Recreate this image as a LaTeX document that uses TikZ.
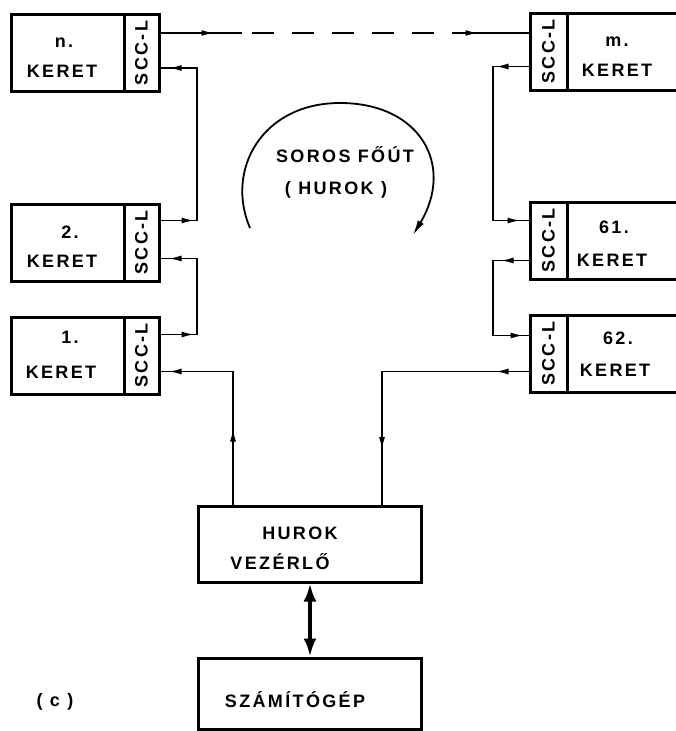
\documentclass[tikz,border=0pt]{standalone}
\usepackage{fontspec}
\setmainfont[LetterSpace=13]{Liberation Sans}
\usetikzlibrary{arrows.meta,decorations.markings,calc}
\tikzset{
  mytip/.tip={Latex[length=13pt,width=6pt]},
  box/.style={draw,line width=3pt,rectangle,inner sep=0pt},
  lbl/.style={font=\fontsize{18}{21}\selectfont\bfseries,inner sep=0pt},
  con/.style={line width=1.8pt},
  twoarr/.style 2 args={postaction={decorate},decoration={markings,
      mark=at position #1 with {\arrow{mytip}},
      mark=at position #2 with {\arrow{mytip}}}},
  onearr/.style={postaction={decorate},decoration={markings,
      mark=at position #1 with {\arrow{mytip}}}},
}
\begin{document}
\begin{tikzpicture}[x=1pt,y=-1pt]
\useasboundingbox (0,0) rectangle (675,731);
% guide x positions
\coordinate (gL) at (197,0);
\coordinate (gR) at (493,0);
\coordinate (gVL) at (233,0);
\coordinate (gVR) at (382,0);
\coordinate (gM) at (310,0);
% left boxes
\node[box,minimum width=113pt,minimum height=77pt] (nb) at (67.5,53) {};
\node[box,minimum width=35pt,minimum height=77pt,lbl] (ns) at (141.5,53) {\rotatebox{90}{SCC-L}};
\node[box,minimum width=113pt,minimum height=77pt] (b2) at (67.5,242.5) {};
\node[box,minimum width=35pt,minimum height=77pt,lbl] (s2) at (141.5,242.5) {\rotatebox{90}{SCC-L}};
\node[box,minimum width=113pt,minimum height=77pt] (b1) at (67.5,355.5) {};
\node[box,minimum width=35pt,minimum height=77pt,lbl] (s1) at (141.5,355.5) {\rotatebox{90}{SCC-L}};
% right boxes
\node[box,minimum width=133pt,minimum height=77pt] (mb) at (633.5,51.5) {};
\node[box,minimum width=37pt,minimum height=77pt,lbl] (ms) at (548.5,51.5) {\rotatebox{90}{SCC-L}};
\node[box,minimum width=133pt,minimum height=77pt] (b61) at (633.5,240.5) {};
\node[box,minimum width=37pt,minimum height=77pt,lbl] (s61) at (548.5,240.5) {\rotatebox{90}{SCC-L}};
\node[box,minimum width=133pt,minimum height=77pt] (b62) at (633.5,353.5) {};
\node[box,minimum width=37pt,minimum height=77pt,lbl] (s62) at (548.5,353.5) {\rotatebox{90}{SCC-L}};
% box labels
\node[lbl] (tn1) at (64,43) {n.};
\node[lbl] (tn2) at (62,71) {KERET};
\node[lbl] (t21) at (70,232) {2.};
\node[lbl] (t22) at (62,261) {KERET};
\node[lbl] (t11) at (70,337) {1.};
\node[lbl] (t12) at (61,372) {KERET};
\node[lbl] (tm1) at (617,42) {m.};
\node[lbl] (tm2) at (617,70) {KERET};
\node[lbl] (t611) at (614,227) {61.};
\node[lbl] (t612) at (612,260) {KERET};
\node[lbl] (t621) at (618,338) {62.};
\node[lbl] (t622) at (615,370) {KERET};
% controller and computer
\node[box,minimum width=223pt,minimum height=76pt] (vz) at (309.5,544) {};
\node[lbl] (vz1) at (300,533) {HUROK};
\node[lbl] (vz2) at (280,562) {VEZÉRLŐ};
\node[box,minimum width=223pt,minimum height=71pt] (sz) at (309.5,693.5) {};
\node[lbl] (sz1) at (295,700) {SZÁMÍTÓGÉP};
\node[lbl] (cc) at (55,702) {( c )};
% loop label
\node[lbl] (lp1) at (345,155) {SOROS FŐÚT};
\node[lbl] (lp2) at (336,190) {( HUROK )};
% ports
\coordinate (nout) at ($(ns.north east)+(0,20)$);
\coordinate (nin)  at ($(ns.north east)+(0,55)$);
\coordinate (2out) at ($(s2.north east)+(0,18)$);
\coordinate (2in)  at ($(s2.north east)+(0,56)$);
\coordinate (1out) at ($(s1.north east)+(0,19)$);
\coordinate (1in)  at ($(s1.north east)+(0,56)$);
\coordinate (min)  at ($(ms.north west)+(0,21.5)$);
\coordinate (mout) at ($(ms.north west)+(0,55)$);
\coordinate (61in)  at ($(s61.north west)+(0,20)$);
\coordinate (61out) at ($(s61.north west)+(0,60)$);
\coordinate (62in)  at ($(s62.north west)+(0,22)$);
\coordinate (62out) at ($(s62.north west)+(0,58)$);
% loop connectors
\draw[con,twoarr={76pt}{-8pt}] (vz.north -| gVL) |- (1in);
\draw[con,twoarr={34pt}{-8pt}] (1out) -| (2in -| gL) -- (2in);
\draw[con,twoarr={34pt}{-8pt}] (2out) -| (nin -| gL) -- (nin);
\coordinate (dA0) at ($(nout)+(81,0)$);
\coordinate (dA)  at ($(nout)+(91,0)$);
\coordinate (dB)  at ($(nout)+(291,0)$);
\draw[con,onearr={54pt}] (nout) -- (dA0);
\draw[con,dash pattern=on 22pt off 18pt] (dA) -- (dB);
\draw[con,onearr={27pt}] (dB) -- (min);
\draw[con,twoarr={33pt}{-8pt}] (mout) -| (61in -| gR) -- (61in);
\draw[con,twoarr={28pt}{-5pt}] (61out) -| (62in -| gR) -- (62in);
\draw[con,twoarr={33pt}{225pt}] (62out) -| (vz.north -| gVR);
% bus between controller and computer
\draw[line width=4.5pt,{Latex[length=18pt,width=13pt]}-{Latex[length=18pt,width=13pt]}] (vz.south -| gM) -- (sz.north -| gM);
% loop arrow
\draw[line width=1.8pt,-{Latex[length=15pt,width=7pt]}] (250,228) .. controls (225,170) and (262,103) .. (340,103) .. controls (420,103) and (455,165) .. (413,235);
\end{tikzpicture}
\end{document}
